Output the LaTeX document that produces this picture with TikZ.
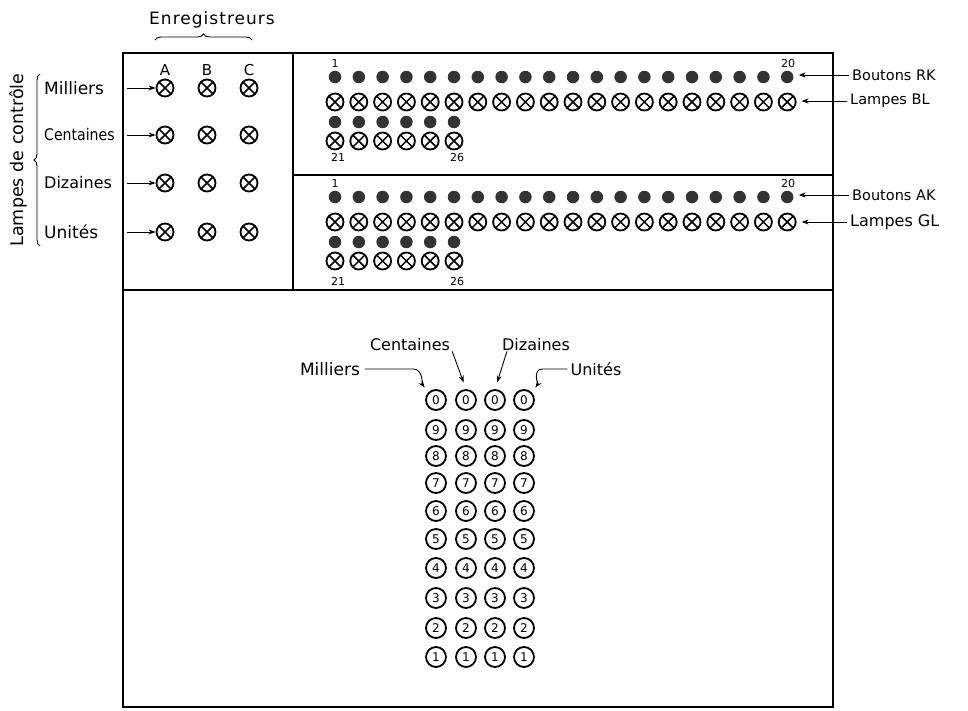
\documentclass[tikz,border=0pt]{standalone}
\usepackage{fontspec}
\setmainfont{DejaVu Sans}
\usetikzlibrary{decorations.pathreplacing,arrows.meta}
\begin{document}
\begin{tikzpicture}[x=1pt,y=-1pt,
  lamp/.style={circle,draw,line width=1.8pt,minimum size=17pt,inner sep=0pt,
    path picture={\draw[line width=1.5pt] (path picture bounding box.north west)--(path picture bounding box.south east) (path picture bounding box.north east)--(path picture bounding box.south west);}},
  knob/.style={circle,fill=black!80,minimum size=12.5pt,inner sep=0pt},
  digit/.style={circle,draw,line width=1.8pt,minimum size=20pt,inner sep=0pt,font=\fontsize{12}{13}\selectfont},
  lbl/.style={font=\fontsize{16}{18}\selectfont,inner sep=0pt},
  rlbl/.style={font=\fontsize{14.5}{16}\selectfont,inner sep=0pt,anchor=west},
  small/.style={font=\fontsize{11}{12}\selectfont,inner sep=0pt},
  arr/.style={-{Stealth[length=7pt,width=5pt]},line width=0.9pt},
  frame/.style={line width=2.8pt},
  divider/.style={line width=2.2pt},
  brc/.style={decorate,decoration={brace,amplitude=6pt},line width=0.9pt},
]
\useasboundingbox (0,0) rectangle (968,710);

% frames
\draw[frame] (123,53) rectangle (833,707);
\draw[divider] (293,53) -- (293,290);
\draw[divider] (123,290) -- (833,290);
\draw[divider] (293,175) -- (833,175);

% Enregistreurs
\node[lbl,font=\fontsize{17}{19}\selectfont\addfontfeature{LetterSpace=6}] (enr) at (212,20) {Enregistreurs};
\draw[brc] (155,40) -- (252,40);

% Lampes de controle
\node[lbl,rotate=90,font=\fontsize{17.5}{20}\selectfont] (lc) at (18,160) {Lampes de contrôle};
\draw[brc] (40,246) -- (40,74);

% column headers
\foreach \c/\x in {A/165,B/207,C/249}
  \node[lbl,font=\fontsize{15}{17}\selectfont] (h\c) at (\x,70) {\c};

% rows
\foreach \r/\y/\t/\s/\st in {1/88/Milliers/17/1,2/135/Centaines/16/0.88,3/183/Dizaines/16/1,4/232/Unités/17/1} {
  \node[lbl,anchor=west,font=\fontsize{\s}{18}\selectfont\addfontfeature{FakeStretch=\st}] (rl\r) at (44,\y) {\t};
  \foreach \c/\x in {A/165,B/207,C/249}
    \node[lamp] (k\c\r) at (\x,\y) {};
  \coordinate (ra\r) at (127,\y);
  \draw[arr] (ra\r) -- (kA\r);
}

% right panels
\foreach \p/\dy in {1/0,2/120} {
  \foreach \i in {1,...,20} {
    \pgfmathsetmacro\xx{335+(\i-1)*23.8}
    \node[knob] (b\p-\i) at (\xx,77+\dy) {};
    \node[lamp] (l\p-\i) at (\xx,102+\dy) {};
  }
  \foreach \i in {21,...,26} {
    \pgfmathsetmacro\xx{335+(\i-21)*23.8}
    \node[knob] (b\p-\i) at (\xx,122+\dy) {};
    \node[lamp] (l\p-\i) at (\xx,141+\dy) {};
  }
  \node[small] (n\p-a) at (335,63+\dy) {1};
  \node[small] (n\p-b) at (788,63+\dy) {20};
}
\node[small] (n1-c) at (338,157) {21};
\node[small] (n1-d) at (457,157) {26};
\node[small] (n2-c) at (338,281) {21};
\node[small] (n2-d) at (457,281) {26};

\node[rlbl] (bRK) at (852,75) {Boutons RK};
\node[rlbl] (lBL) at (850,101) {Lampes BL};
\node[rlbl] (bAK) at (852,195) {Boutons AK};
\node[rlbl,font=\fontsize{16}{18}\selectfont] (lGL) at (850,222) {Lampes GL};
\draw[arr,shorten >=5pt] ([xshift=-3pt]bRK.west) -- (b1-20.east |- bRK.west);
\draw[arr,shorten >=5pt] ([xshift=-3pt]lBL.west) -- (l1-20.east |- lBL.west);
\draw[arr,shorten >=5pt] ([xshift=-3pt]bAK.west) -- (b2-20.east |- bAK.west);
\draw[arr,shorten >=5pt] ([xshift=-3pt]lGL.west) -- (l2-20.east |- lGL.west);

% digit wheels
\foreach \cc/\x in {1/436,2/466,3/495,4/524} {
  \foreach \d/\y in {0/400,9/430,8/456,7/483,6/511,5/539,4/568,3/598,2/628,1/657}
    \node[digit] (d\cc-\d) at (\x,\y) {\d};
}

\node[lbl,font=\fontsize{17}{19}\selectfont] (mil) at (330,369) {Milliers};
\node[lbl] (cen) at (410,345) {Centaines};
\node[lbl] (diz) at (536,345) {Dizaines};
\node[lbl] (uni) at (596,369) {Unités};

\draw[arr,shorten >=6pt] ([xshift=5pt]mil.east) -- ++(48,0) .. controls +(10,0) and +(-6,-8) .. (d1-0.north west);
\draw[arr,shorten >=7pt] ([xshift=2pt]cen.south east) -- (d2-0.north);
\draw[arr,shorten >=7pt] ([xshift=5pt]diz.south west) -- (d3-0.north);
\draw[arr,shorten >=6pt] ([xshift=-3pt]uni.west) -- ++(-25,0) .. controls +(-10,0) and +(6,-8) .. (d4-0.north east);
\end{tikzpicture}
\end{document}
